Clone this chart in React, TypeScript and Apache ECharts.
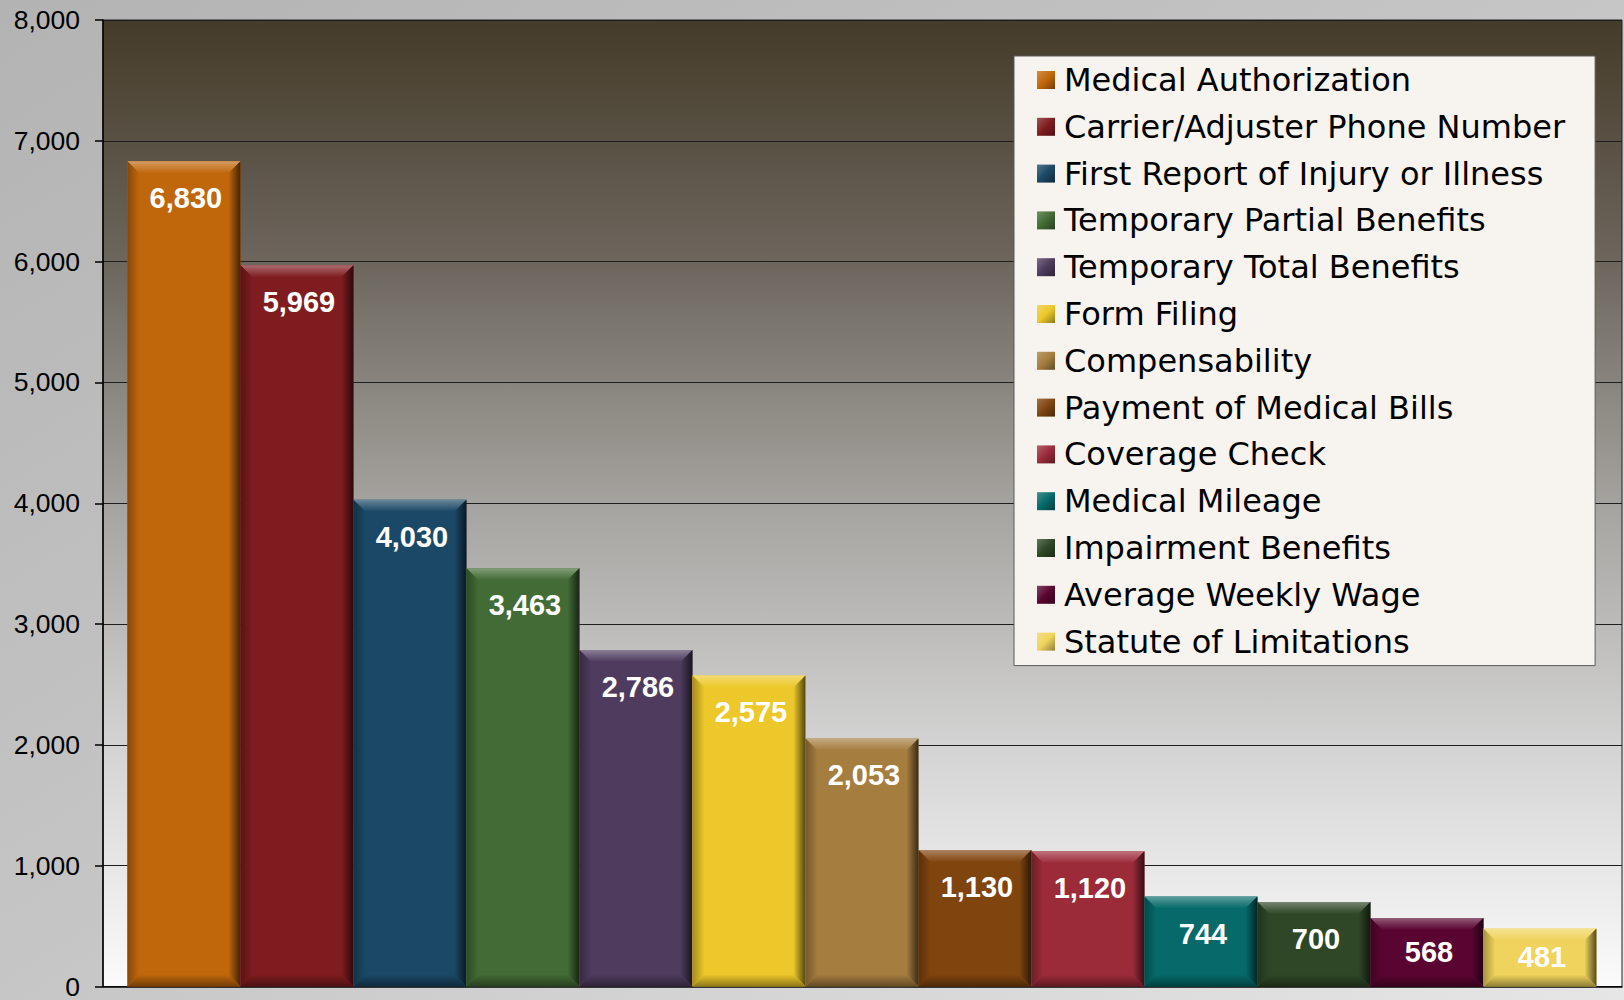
import React, { useEffect, useRef } from "react";
import * as echarts from "echarts";

const categories = [
  "Medical Authorization",
  "Carrier/Adjuster Phone Number",
  "First Report of Injury or Illness",
  "Temporary Partial Benefits",
  "Temporary Total Benefits",
  "Form Filing",
  "Compensability",
  "Payment of Medical Bills",
  "Coverage Check",
  "Medical Mileage",
  "Impairment Benefits",
  "Average Weekly Wage",
  "Statute of Limitations",
];

const values = [6830, 5969, 4030, 3463, 2786, 2575, 2053, 1130, 1120, 744, 700, 568, 481];

const colors = [
  "#c0670c",
  "#7f1c1f",
  "#1b4866",
  "#426b35",
  "#4e3b5e",
  "#ecc82a",
  "#a57d3f",
  "#80440f",
  "#9c2b3a",
  "#066a6a",
  "#2f4727",
  "#5a0531",
  "#f0d35c",
];

const yTicks = [0, 1000, 2000, 3000, 4000, 5000, 6000, 7000, 8000];

function hexToRgb(hex: string): number[] {
  const h = hex.replace("#", "");
  return [0, 2, 4].map((i) => parseInt(h.substr(i, 2), 16));
}
function mix(hex: string, target: string, t: number): string {
  const a = hexToRgb(hex);
  const b = hexToRgb(target);
  const c = a.map((v, i) => Math.round(v + (b[i] - v) * t));
  return "rgb(" + c.join(",") + ")";
}

export default function App() {
  const ref = useRef<HTMLDivElement>(null);

  useEffect(() => {
    if (!ref.current) return;
    const chart = echarts.init(ref.current, null, { renderer: "svg" });
    const G = echarts.graphic.LinearGradient;

    const renderItem = (params: any, api: any) => {
      const idx = api.value(0);
      const val = api.value(1);
      const color = colors[idx];
      const p0 = api.coord([idx - 0.5, val]);
      const p1 = api.coord([idx + 0.5, 0]);
      const x0 = p0[0];
      const y0 = p0[1];
      const x1 = p1[0];
      const y1 = p1[1];
      const h = y1 - y0;
      const b = Math.min(12, h / 2);
      const children: any[] = [
        {
          type: "rect",
          shape: { x: x0, y: y0, width: x1 - x0, height: h },
          style: { fill: color },
        },
        {
          type: "polygon",
          shape: { points: [[x0, y0], [x1, y0], [x1 - b, y0 + b], [x0 + b, y0 + b]] },
          style: {
            fill: new G(0, 0, 0, 1, [
              { offset: 0, color: mix(color, "#ffffff", 0.35) },
              { offset: 0.4, color: mix(color, "#ffffff", 0.2) },
              { offset: 1, color: color },
            ]),
          },
        },
        {
          type: "polygon",
          shape: { points: [[x1, y0], [x1, y1], [x1 - b, y1 - b], [x1 - b, y0 + b]] },
          style: {
            fill: new G(0, 0, 1, 0, [
              { offset: 0, color: color },
              { offset: 1, color: mix(color, "#000000", 0.65) },
            ]),
          },
        },
        {
          type: "polygon",
          shape: { points: [[x0, y1], [x1, y1], [x1 - b, y1 - b], [x0 + b, y1 - b]] },
          style: {
            fill: new G(0, 0, 0, 1, [
              { offset: 0, color: color },
              { offset: 1, color: mix(color, "#000000", 0.4) },
            ]),
          },
        },
        {
          type: "polygon",
          shape: { points: [[x0, y0], [x0, y1], [x0 + b, y1 - b], [x0 + b, y0 + b]] },
          style: {
            fill: new G(0, 0, 1, 0, [
              { offset: 0, color: mix(color, "#000000", 0.3) },
              { offset: 1, color: color },
            ]),
          },
        },
        {
          type: "text",
          style: {
            text: Number(val).toLocaleString("en-US"),
            x: (x0 + x1) / 2 + 2,
            y: y0 + Math.min(37, h / 2),
            align: "center",
            verticalAlign: "middle",
            fill: "#ffffff",
            fontSize: 29,
            fontWeight: "bold",
            fontFamily: "'Liberation Sans', Arial, sans-serif",
          },
        },
      ];
      return { type: "group", children };
    };

    const series = categories.map((name, i) => ({
      type: "custom",
      name,
      data: [[i, values[i]]],
      encode: { x: 0, y: 1 },
      itemStyle: { color: colors[i] },
      renderItem,
    }));

    const legendData = categories.map((name, i) => ({
      name,
      itemStyle: {
        color: new G(0, 0, 1, 1, [
          { offset: 0, color: mix(colors[i], "#ffffff", 0.25) },
          { offset: 0.5, color: colors[i] },
          { offset: 1, color: mix(colors[i], "#000000", 0.4) },
        ]),
      },
    }));

    chart.setOption({
      animation: false,
      backgroundColor: new G(0, 0, 1, 1, [
        { offset: 0, color: "#b3b3b3" },
        { offset: 0.5, color: "#c6c6c6" },
        { offset: 1, color: "#e6e6e6" },
      ]),
      grid: {
        left: 103,
        right: 2,
        top: 20,
        bottom: 11,
        show: true,
        borderColor: "#222",
        borderWidth: 1,
        backgroundColor: new G(0, 0, 0, 1, [
          { offset: 0, color: "#453b29" },
          { offset: 0.25, color: "#6c665d" },
          { offset: 0.5, color: "#a5a39f" },
          { offset: 0.75, color: "#d3d3d3" },
          { offset: 1, color: "#fbfbfb" },
        ]),
      },
      legend: {
        orient: "vertical",
        left: 1014,
        top: 56,
        padding: [8, 30, 8, 23],
        itemWidth: 18,
        itemHeight: 18,
        itemGap: 14.8,
        icon: "rect",
        backgroundColor: "#f7f3ee",
        borderColor: "#5a5a5a",
        borderWidth: 1,
        data: legendData,
        textStyle: {
          fontSize: 32,
          lineHeight: 31,
          fontFamily: "'DejaVu Sans', Verdana, sans-serif",
          color: "#000",
          padding: [0, 0, 0, 4],
        },
      },
      xAxis: {
        type: "value",
        min: -0.716,
        max: 12.726,
        axisLine: { show: true, onZero: false, lineStyle: { color: "#000", width: 1.5 } },
        axisTick: { show: false },
        axisLabel: { show: false },
        splitLine: { show: false },
      },
      yAxis: {
        type: "value",
        min: yTicks[0],
        max: yTicks[yTicks.length - 1],
        interval: 1000,
        axisLine: { show: true, onZero: false, lineStyle: { color: "#000", width: 1.5 } },
        axisTick: { show: true, length: 8, lineStyle: { color: "#000", width: 1.5 } },
        axisLabel: {
          margin: 23,
          fontSize: 26.5,
          color: "#000",
          fontFamily: "'Liberation Sans', Arial, sans-serif",
          formatter: (v: number) => v.toLocaleString("en-US"),
        },
        splitLine: { show: true, lineStyle: { color: "#1e1e1e", width: 1 } },
      },
      series,
    });

    return () => chart.dispose();
  }, []);

  return (
    <div
      ref={ref}
      style={{ position: "absolute", left: 0, top: 0, width: 1624, height: 1000 }}
    />
  );
}
